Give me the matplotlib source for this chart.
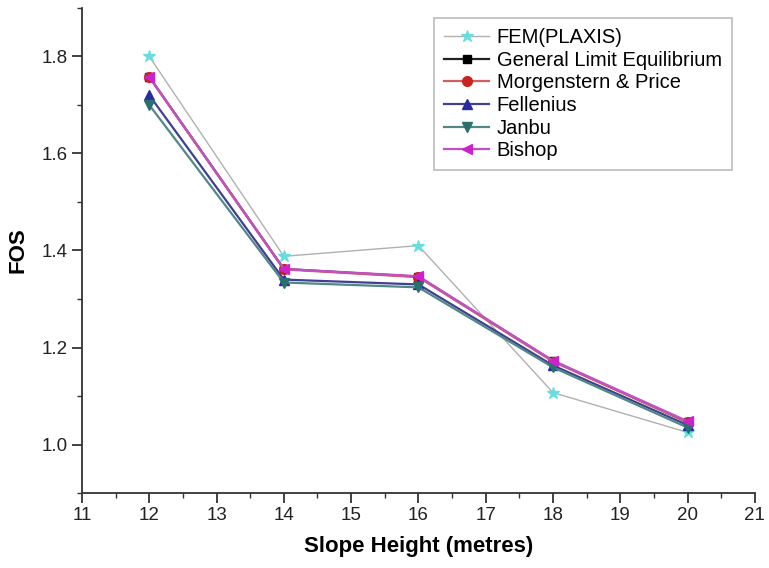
import matplotlib
matplotlib.use("Agg")
import matplotlib.pyplot as plt
from matplotlib.ticker import MultipleLocator

plt.rcParams['font.family'] = ['Liberation Sans', 'DejaVu Sans']

# -- data -- #
heights = [12, 14, 16, 18, 20]
fem = [1.800, 1.388, 1.410, 1.107, 1.025]
gle = [1.758, 1.362, 1.346, 1.172, 1.046]
morgenstern = [1.757, 1.361, 1.345, 1.171, 1.046]
fellenius = [1.720, 1.340, 1.330, 1.163, 1.040]
janbu = [1.700, 1.334, 1.324, 1.159, 1.035]
bishop = [1.758, 1.362, 1.347, 1.173, 1.048]

series = [
    ("FEM(PLAXIS)", fem, "#b0b0b0", "#66dede", "*", 1.0, 9),
    ("General Limit Equilibrium", gle, "#222222", "#000000", "s", 1.6, 6),
    ("Morgenstern & Price", morgenstern, "#d06060", "#cc2222", "o", 1.6, 7),
    ("Fellenius", fellenius, "#404090", "#2a2aa0", "^", 1.6, 7),
    ("Janbu", janbu, "#508888", "#2a7070", "v", 1.6, 7),
    ("Bishop", bishop, "#c050c8", "#cc22cc", "<", 1.6, 7),
]

fig = plt.figure(figsize=(7.69, 5.68), dpi=100)
ax = fig.add_axes([0.1066, 0.132, 0.875, 0.854])

for name, vals, lc, mc, mk, lw, ms in series:
    ax.plot(heights, vals, color=lc, lw=lw, marker=mk, markersize=ms,
            markerfacecolor=mc, markeredgecolor=mc, label=name)

ax.set_xlim(11, 21)
ax.set_ylim(0.9, 1.9)
ax.xaxis.set_major_locator(MultipleLocator(1))
ax.xaxis.set_minor_locator(MultipleLocator(0.5))
ax.set_yticks([1.0, 1.2, 1.4, 1.6, 1.8])
ax.yaxis.set_minor_locator(MultipleLocator(0.1))

for s in ['top', 'right']:
    ax.spines[s].set_visible(False)
for s in ['left', 'bottom']:
    ax.spines[s].set_linewidth(1.3)
    ax.spines[s].set_color('#333333')

ax.tick_params(which='major', direction='out', length=7, width=1.2, pad=3,
               labelsize=13.5, colors='#222222')
ax.tick_params(which='minor', direction='out', length=3.5, width=1.0, colors='#333333')

ax.set_xlabel("Slope Height (metres)", fontsize=16, fontweight='bold', labelpad=9)
ax.set_ylabel("FOS", fontsize=16, fontweight='bold', labelpad=10)

leg = ax.legend(loc='upper right', fontsize=14.5, frameon=True, fancybox=False,
                edgecolor='#aaaaaa', handlelength=2.2, handletextpad=0.4,
                borderpad=0.5, labelspacing=0.18, borderaxespad=0,
                bbox_to_anchor=(0.966, 0.979))
leg.get_frame().set_linewidth(1.2)

fig.savefig("out.png", dpi=100)
